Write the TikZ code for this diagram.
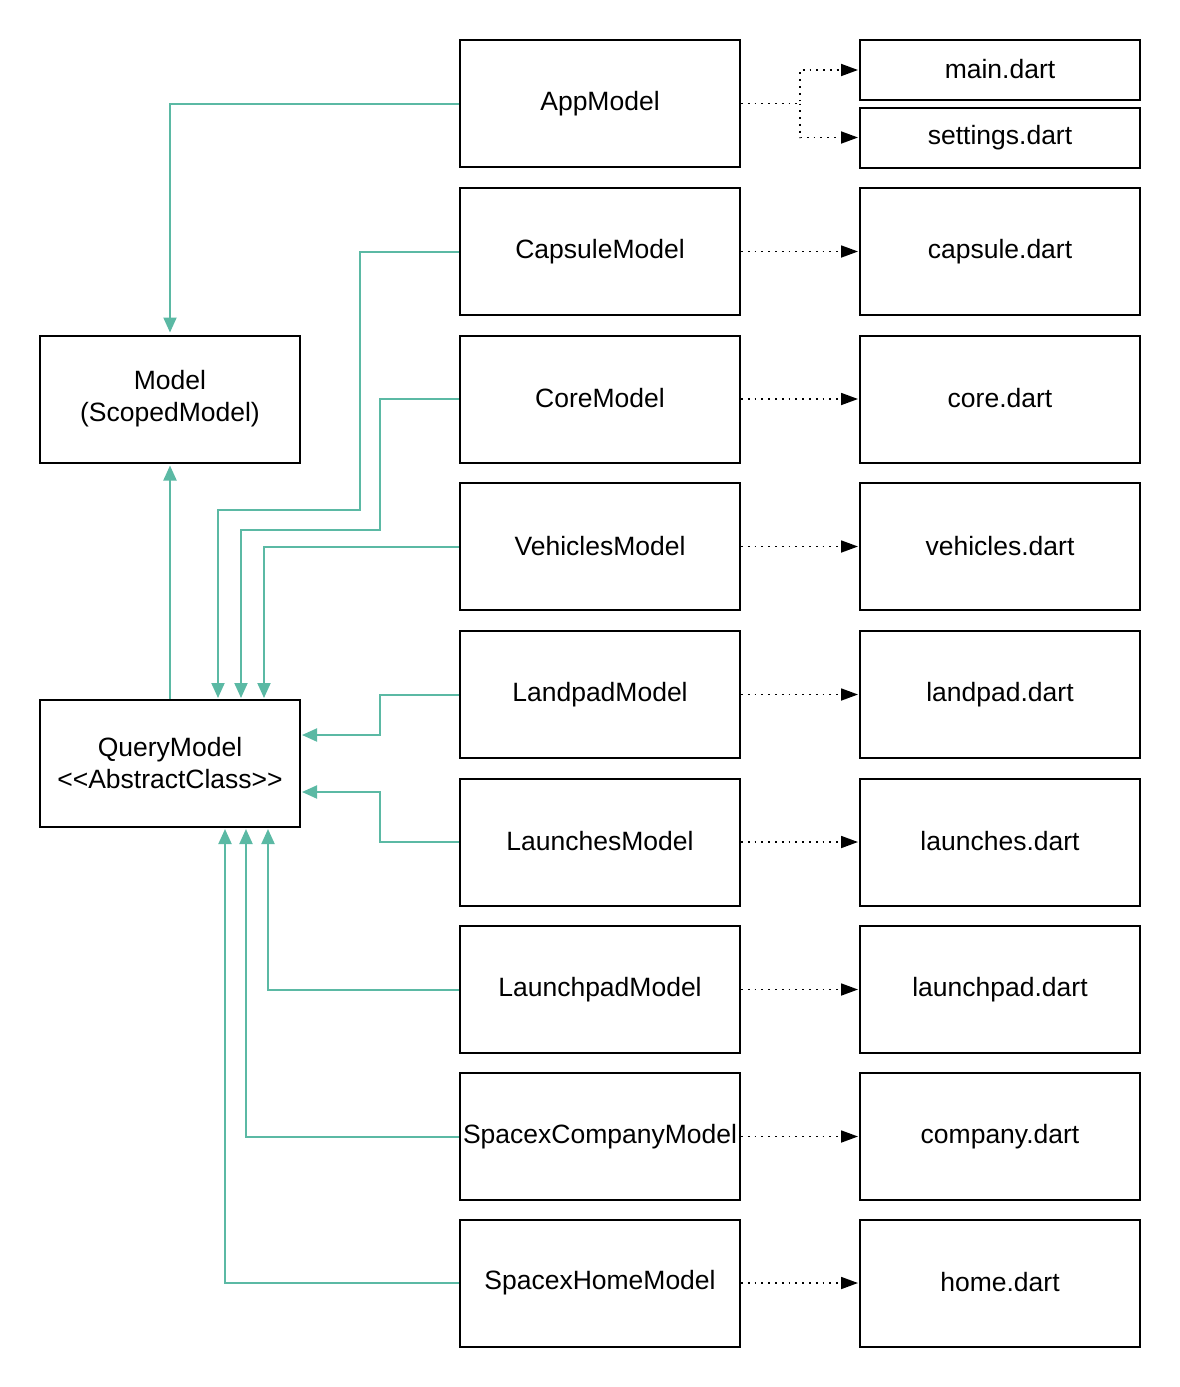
\documentclass[tikz,border=0pt]{standalone}
\usepackage{fontspec}
\setmainfont{Liberation Sans}
\usetikzlibrary{arrows.meta}
\definecolor{teal}{RGB}{91,185,164}
\begin{document}
\begin{tikzpicture}[x=1pt,y=-1pt,
  box/.style={draw=black,line width=2pt,minimum width=280pt,minimum height=127pt,inner sep=0pt,align=center,font=\fontsize{26.5}{32}\selectfont},
  sbox/.style={box,minimum height=60pt},
  mbox/.style={box,minimum width=260pt},
  inh/.style={draw=teal,line width=2pt,-{Triangle[length=15pt,width=13pt]},shorten >=2pt},
  dep/.style={draw=black,line width=1.8pt,dash pattern=on 1.8pt off 5pt,-{Triangle[length=17pt,width=12pt]},shorten >=1pt}
]
\useasboundingbox (0,0) rectangle (1180,1387);
% left column
\node[box] (app) at (600,103.5) {\raisebox{2pt}{AppModel}};
\node[box] (caps) at (600,251.5) {\raisebox{2pt}{CapsuleModel}};
\node[box] (core) at (600,399) {\raisebox{2pt}{CoreModel}};
\node[box] (veh) at (600,546.5) {\raisebox{2pt}{VehiclesModel}};
\node[box] (land) at (600,694.5) {\raisebox{2pt}{LandpadModel}};
\node[box] (lnch) at (600,842) {\raisebox{2pt}{LaunchesModel}};
\node[box] (lpad) at (600,989.5) {\raisebox{2pt}{LaunchpadModel}};
\node[box] (comp) at (600,1136.5) {\raisebox{2pt}{SpacexCompanyModel}};
\node[box] (home) at (600,1283) {\raisebox{2pt}{SpacexHomeModel}};
% right column
\node[sbox] (mainf) at (1000,70) {\raisebox{2pt}{main.dart}};
\node[sbox] (sett) at (1000,137.5) {\raisebox{2pt}{settings.dart}};
\node[box] (capsf) at (1000,251.5) {\raisebox{2pt}{capsule.dart}};
\node[box] (coref) at (1000,399) {\raisebox{2pt}{core.dart}};
\node[box] (vehf) at (1000,546.5) {\raisebox{2pt}{vehicles.dart}};
\node[box] (landf) at (1000,694.5) {\raisebox{2pt}{landpad.dart}};
\node[box] (lnchf) at (1000,842) {\raisebox{2pt}{launches.dart}};
\node[box] (lpadf) at (1000,989.5) {\raisebox{2pt}{launchpad.dart}};
\node[box] (compf) at (1000,1136.5) {\raisebox{2pt}{company.dart}};
\node[box] (homef) at (1000,1283) {\raisebox{2pt}{home.dart}};
% models
\node[mbox] (model) at (170,399) {Model\\(ScopedModel)};
\node[mbox] (query) at (170,763.5) {QueryModel\\<{}<AbstractClass>{}>};
% teal connectors
\draw[inh] (app.west) -- (170,103.5) -- (model.north);
\draw[inh] (query.north) -- (model.south);
\draw[inh] (caps.west) -- (360,251.5) -- (360,510) -- (218,510) -- (218,700);
\draw[inh] (core.west) -- (380,399) -- (380,530) -- (241,530) -- (241,700);
\draw[inh] (veh.west) -- (264,546.5) -- (264,700);
\draw[inh] (land.west) -- (380,694.5) -- (380,735) -- (300,735);
\draw[inh] (lnch.west) -- (380,842) -- (380,792) -- (300,792);
\draw[inh] (lpad.west) -- (268,989.5) -- (268,827);
\draw[inh] (comp.west) -- (246,1136.5) -- (246,827);
\draw[inh] (home.west) -- (225,1283) -- (225,827);
% dotted connectors
\draw[dep] (app.east) -- (800,103.5) |- (mainf.west);
\draw[dep] (800,103.5) |- (sett.west);
\draw[dep] (caps.east) -- (capsf.west);
\draw[dep] (core.east) -- (coref.west);
\draw[dep] (veh.east) -- (vehf.west);
\draw[dep] (land.east) -- (landf.west);
\draw[dep] (lnch.east) -- (lnchf.west);
\draw[dep] (lpad.east) -- (lpadf.west);
\draw[dep] (comp.east) -- (compf.west);
\draw[dep] (home.east) -- (homef.west);
\end{tikzpicture}
\end{document}
